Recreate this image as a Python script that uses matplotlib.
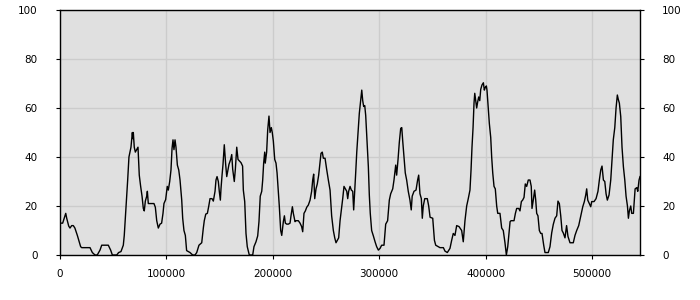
import numpy as np
import matplotlib
matplotlib.use("Agg")
import matplotlib.pyplot as plt

# position (bp) and value
pos = [0, 2500, 5400, 6300, 8200, 9400, 11000, 12500, 14000, 16300, 18100, 19400,
       20400, 28200, 30400, 32900, 35000, 37600, 39200, 45400, 47600, 49200, 53300,
       55100, 57300, 59500, 60400, 61400, 62600, 63600, 64800, 65800, 66700, 68000,
       68500, 68900, 69800, 70800, 72100, 73300, 74500, 75800, 77100, 78300, 79200,
       80200, 81500, 82100, 83000, 88300, 89600, 90900, 92400, 94000, 95500, 96800,
       97700, 99300, 100800, 101800, 103100, 104300, 105300, 106200, 107100, 108100,
       109000, 110300, 111600, 112800, 114400, 115300, 116500, 117800, 119000, 122200,
       124700, 126900, 128500, 130600, 133200, 134700, 135600, 137000, 138500, 139700,
       141000, 142900, 144100, 145700, 146600, 147600, 148800, 149700, 150700, 151300,
       152300, 153200, 154400, 155700, 156700, 157900, 158800, 160400, 161400, 162300,
       163800, 164800, 166100, 167300, 170100, 171600, 172300, 173600, 174800, 176000,
       177900, 181100, 182300, 184200, 185800, 187000, 188200, 189600, 190500, 191400,
       192400, 192900, 194200, 195200, 196400, 197400, 198600, 199500, 200500, 201800,
       203000, 204000, 205200, 206100, 207400, 208400, 209900, 210900, 211800, 213100,
       214600, 216200, 217100, 218400, 219300, 220900, 221800, 224000, 225600, 227100,
       228100, 229300, 230600, 231900, 233400, 235000, 236500, 237500, 238400, 239400,
       240600, 241800, 243100, 244400, 245300, 246500, 247500, 249100, 250600, 252200,
       253800, 255300, 256900, 258200, 259400, 260600, 261900, 263200, 264400, 265700,
       266900, 268200, 269500, 270400, 271300, 272600, 273800, 275100, 276000, 277000,
       277900, 278900, 280100, 281300, 282600, 283600, 284500, 285400, 286400, 287300,
       288500, 289800, 290700, 291600, 292900, 294500, 296100, 297600, 299200, 300800,
       302300, 304500, 306100, 307900, 309500, 310800, 312700, 313900, 315500, 316400,
       317700, 318900, 320200, 321200, 322100, 323300, 324500, 325800, 327300, 328900,
       330100, 331000, 332700, 334600, 336100, 337100, 338300, 339600, 340500, 341400,
       342800, 345200, 346500, 347800, 350300, 351900, 353100, 357100, 360300, 361800,
       364000, 366500, 368100, 369600, 371200, 372800, 375000, 377500, 379000, 380600,
       382200, 383700, 385300, 386300, 387200, 388200, 389100, 389800, 390700, 391600,
       392600, 393500, 394500, 395400, 396600, 397900, 398800, 399700, 400700, 401300,
       402300, 403500, 404800, 405700, 406700, 407900, 409100, 410400, 411400, 413500,
       415100, 416600, 418200, 419500, 420800, 422000, 423000, 423900, 426700, 428000,
       429200, 431100, 432300, 433600, 434800, 436100, 437300, 438600, 440100, 441700,
       442900, 443600, 444800, 446100, 447100, 448000, 449200, 450500, 451800, 453000,
       454600, 455800, 458900, 460500, 462100, 463600, 465200, 466800, 468000, 469300,
       470600, 471800, 473000, 474600, 476100, 477400, 479300, 482400, 484000, 485600,
       487500, 489400, 491300, 492800, 494100, 495000, 496000, 497500, 498800, 499700,
       501900, 503800, 505600, 506900, 508200, 509400, 510700, 512000, 513200, 514400,
       516000, 517600, 518800, 520000, 521400, 522600, 523800, 524700, 525700, 527000,
       528200, 529500, 530800, 532000, 533300, 534200, 535100, 536400, 537300, 538900,
       540500, 542100, 543000, 544200, 545100]
value = [13, 13, 17, 15, 11.8, 11, 12, 12, 11, 8, 5.4, 3.4,
         3, 3, 1, 0, 0, 2, 4, 4, 2, 0, 0,
         1, 1.4, 4, 8, 15, 24, 30.6, 40, 42, 44, 50,
         47.5, 50, 44, 42, 43, 44, 32.6, 28, 24, 19, 18,
         22, 24, 26, 21, 21, 19.5, 14, 11, 12.6, 13, 17,
         21, 22.6, 28, 26.5, 30, 34.7, 43.5, 47, 43, 47,
         44, 36.7, 34.7, 30.6, 22.4, 15, 10, 8, 1.8, 1,
         0, 0, 1, 4, 5, 11, 14, 16.7, 17, 19.7,
         23, 23, 22, 26, 30.6, 32, 30, 26, 22.4, 27,
         32.6, 37, 45, 37, 32, 35, 37, 39, 41, 35,
         30, 35, 44, 39, 37.7, 36.3, 26.5, 21.8, 8.8, 3.4,
         0, 0, 3.4, 5.4, 7.8, 13.6, 24, 26, 30.6, 37.5,
         42, 37.5, 42, 51, 56.7, 50, 52, 50, 46.5, 39,
         37.5, 33.5, 26, 20, 10, 8, 13.6, 16, 13, 12.6,
         12.6, 13, 16, 19.7, 17, 13.6, 14, 14, 13, 11.6,
         9.5, 17, 18, 19.5, 20.4, 22.4, 26, 30.6, 33, 23,
         27, 29, 32.6, 38, 41.5, 42, 39.5, 39.5, 35, 30.6,
         26.5, 16, 10, 7, 5, 6, 7, 14, 18.4, 23,
         28, 27, 26, 23, 26, 28, 26.5, 26, 18.4, 26,
         33.5, 42, 49.7, 57.8, 63, 67.3, 63, 60.6, 61, 57,
         47, 36, 24.5, 17, 10, 7.8, 5.4, 3.4, 2, 2.7,
         4, 4, 12.6, 14, 22.4, 25, 27, 30.6, 36.7, 32.6,
         39, 46, 51.7, 52, 46.5, 40, 33.5, 30.6, 26, 22.4,
         18.4, 24, 26, 26.5, 30.6, 32.6, 25, 23, 15, 20,
         23, 23, 20, 15.4, 15, 6, 4, 3, 3, 1.6,
         1, 2.7, 6, 8.8, 8, 12, 11.6, 10, 5.4, 14,
         20, 23, 26.5, 34.7, 44, 52, 62, 66, 63, 60,
         62.6, 64.5, 63, 67.6, 69.4, 70.3, 67.3, 68.4, 69, 67.3,
         61.2, 53.7, 48, 40, 33.5, 28, 27, 20, 17, 17,
         11, 10, 5, 0, 3.4, 9, 13.6, 14, 14, 17,
         19, 19, 18, 21.8, 22.4, 23.5, 29, 28, 30.6, 30.6,
         28, 19, 22.4, 26.5, 22.4, 17, 16, 10, 8.8, 8.8,
         4, 1, 1, 3.4, 9, 12.5, 15, 16, 22, 21,
         16, 10, 9, 7, 12, 7.6, 5, 5, 8, 10,
         12, 15.8, 19.7, 21.8, 24.5, 27, 22.4, 21, 19.7, 21.8,
         21.8, 23, 26, 30.6, 34.7, 36.3, 30.6, 30, 25, 22.4,
         24.5, 30.6, 39, 47, 52, 60, 65.3, 63.5, 62, 56.5,
         44, 36, 30.6, 24, 20, 15, 18, 20, 17, 17,
         27, 27.5, 26, 30.6, 32]

x_ticks = [0, 100000, 200000, 300000, 400000, 500000]
y_ticks = [0, 20, 40, 60, 80, 100]

fig = plt.figure(figsize=(7, 3), dpi=100)
ax = fig.add_axes([60 / 700, 45 / 300, 580 / 700, 245 / 300])
ax.set_facecolor("#e0e0e0")
ax.plot(pos, value, color="black", lw=1.0)
ax.set_xlim(0, 545100)
ax.set_ylim(0, 100)
ax.set_xticks(x_ticks)
ax.set_yticks(y_ticks)
ax.set_xticklabels([str(t) for t in x_ticks])
ax.grid(True, color="#cccccc", lw=1.0)
ax.set_axisbelow(True)
for s in ax.spines.values():
    s.set_color("black")
    s.set_linewidth(1.0)

ax.tick_params(axis="x", direction="out", length=3, pad=7, labelsize=7.5,
               colors="black")
ax.tick_params(axis="y", direction="out", length=3, pad=13, labelsize=7.5,
               left=True, right=True, labelleft=True, labelright=True)

fig.savefig("out.png", dpi=100)
